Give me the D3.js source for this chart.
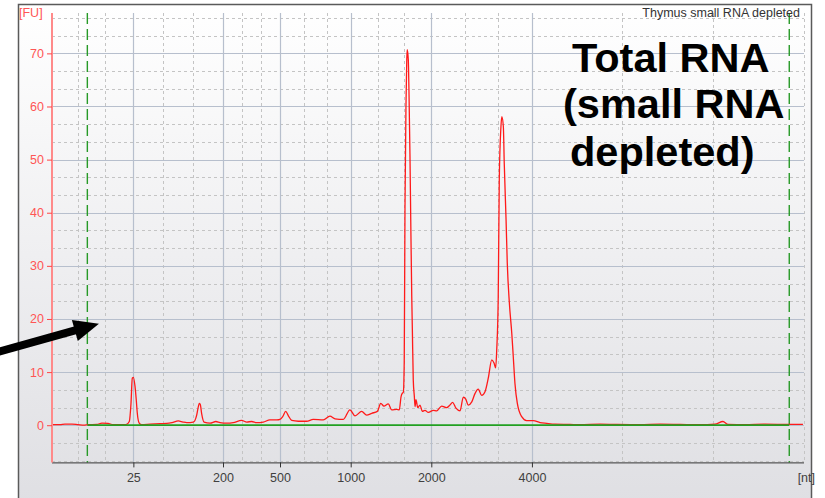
<!DOCTYPE html>
<html><head><meta charset="utf-8">
<script src="https://cdn.jsdelivr.net/npm/d3@7"></script>
<style>body{margin:0;background:#fff} svg{display:block}</style>
</head><body><svg id="c" width="825" height="498"></svg>
<script>
// ---- data (migration time in s -> fluorescence units) ----
const ladderNt   = ["25","200","500","1000","2000","4000"];
const ladderTime = [24.41,30.37,34.16,38.86,44.22,50.91];
const outerGridTime = [20.75,22.52,56.93,62.95,69.0];
const yTicks = [0,10,20,30,40,50,60,70];
const markerTime = [21.35,68.02];
const traceTime = [
 19.00,19.53,19.86,20.33,20.73,21.13,21.39,21.99,22.32,22.72,
 23.06,23.92,24.14,24.25,24.34,24.41,24.52,24.61,24.67,24.80,
 24.96,25.52,26.18,26.63,26.98,27.40,27.71,27.96,28.40,28.62,
 28.73,28.79,28.86,28.95,29.11,29.51,29.90,30.17,30.64,31.05,
 31.61,31.95,32.28,32.61,33.05,33.49,33.96,34.16,34.34,34.54,
 34.71,34.94,35.38,35.93,36.37,37.04,37.48,37.82,38.37,38.81,
 39.15,39.59,39.92,40.26,40.63,40.86,41.07,41.36,41.59,41.92,
 42.09,42.21,42.29,42.36,42.42,42.47,42.54,42.59,42.62,42.69,
 42.74,42.80,42.85,42.92,42.96,43.02,43.09,43.14,43.20,43.32,
 43.47,43.62,43.80,44.02,44.35,44.58,44.91,45.24,45.46,45.64,
 45.86,46.13,46.35,46.51,46.68,46.91,47.13,47.34,47.57,47.79,
 48.01,48.24,48.39,48.50,48.57,48.67,48.74,48.85,48.91,49.01,
 49.07,49.19,49.27,49.41,49.57,49.67,49.78,49.94,50.23,50.56,
 51.00,51.45,51.89,52.44,53.44,54.11,55.44,56.43,58.10,59.43,
 60.76,62.09,63.08,63.61,63.95,65.08,66.41,68.00,68.93];
const traceFU = [
 0.1,0.1,0.2,0.2,0.1,0.0,0.1,0.15,0.4,0.35,
 0.1,0.1,0.7,4,8.85,9.0,7.3,4.5,2.3,0.4,
 0.1,0.2,0.3,0.35,0.5,0.8,0.6,0.5,0.6,1.9,
 3.5,4.1,3.9,2.2,0.6,0.4,0.7,0.5,0.4,0.5,
 0.9,0.6,0.7,0.5,0.6,1.0,1.0,1.1,1.6,2.6,
 1.8,0.9,0.75,0.75,1.1,1.0,1.7,1.2,1.1,2.9,
 1.75,2.6,1.9,2.25,2.6,4.1,3.6,4.0,2.9,3.0,
 2.9,5.4,6.0,6.2,12,41,61,69,70.7,68.8,
 62,51,39.3,24.2,18,8.5,5.5,3.5,4.8,3.3,
 3.8,2.6,2.8,2.4,2.8,2.7,3.6,3.3,3.8,4.3,
 3.2,2.7,5.3,4.9,3.8,4.4,6.0,6.8,5.6,6.3,
 8.9,12.3,11.7,10.8,14.2,24.2,46.2,56.2,58.1,56.2,
 49.3,38.7,30.6,23,17.3,12.9,7.9,4.1,1.6,0.87,
 0.87,0.5,0.35,0.2,0.15,0.1,0.2,0.15,0.1,0.2,
 0.15,0.1,0.2,0.7,0.15,0.1,0.2,0.15,0.15];
const titleText = "Thymus small RNA depleted";
const bigText = ["Total RNA","(small RNA","depleted)"];
const arrowFrom = [15.54, 13.9], arrowTo = [22.12, 19.1];

// ---- drawing ----
const svg = d3.select("#c");
const x = d3.scaleLinear().domain([19, 69]).range([52, 804]);
const y = d3.scaleLinear().domain([-7, 77.6]).range([462.4, 13]);
const [x0, x1] = x.range(), [yb, yt] = y.range();

const defs = svg.append("defs");
const g = defs.append("linearGradient").attr("id","bg").attr("x1",0).attr("y1",0).attr("x2",0).attr("y2",1);
g.append("stop").attr("offset","0%").attr("stop-color","#ffffff");
g.append("stop").attr("offset","100%").attr("stop-color","#dfdfe3");

svg.append("rect").attr("width",825).attr("height",498).attr("fill","#fff");
svg.append("rect").attr("x",18.5).attr("y",4.5).attr("width",793).attr("height",500)
  .attr("fill","url(#bg)").attr("stroke","#5a5a5a").attr("stroke-width",1.5);

// minor gridlines
const minorX = outerGridTime.slice();
for (let i = 0; i < ladderTime.length - 1; i++) {
  const a = ladderTime[i], b = ladderTime[i+1];
  minorX.push(a + (b-a)/3, a + 2*(b-a)/3);
}
const minorY = d3.range(-2, 24).filter(i => i % 3 !== 0).map(i => i*10/3);
svg.append("g").selectAll("line").data(minorX).join("line")
  .attr("x1", d => Math.round(x(d))+0.5).attr("x2", d => Math.round(x(d))+0.5)
  .attr("y1", yt).attr("y2", yb)
  .attr("stroke","#c4c4c4").attr("stroke-dasharray","3,3");
svg.append("g").selectAll("line").data(minorY).join("line")
  .attr("y1", d => Math.round(y(d))+0.5).attr("y2", d => Math.round(y(d))+0.5)
  .attr("x1", x0).attr("x2", x1)
  .attr("stroke","#c4c4c4").attr("stroke-dasharray","3,3");
// major gridlines
svg.append("g").selectAll("line").data(ladderTime).join("line")
  .attr("x1", d => Math.round(x(d))+0.5).attr("x2", d => Math.round(x(d))+0.5)
  .attr("y1", yt).attr("y2", yb)
  .attr("stroke","#b7bfcd").attr("stroke-width",1.2);
svg.append("g").selectAll("line").data(yTicks).join("line")
  .attr("y1", d => Math.round(y(d))+0.5).attr("y2", d => Math.round(y(d))+0.5)
  .attr("x1", x0).attr("x2", x1)
  .attr("stroke","#b7bfcd").attr("stroke-width",1.2);

// markers
svg.append("g").selectAll("line").data(markerTime).join("line")
  .attr("x1", d => x(d)).attr("x2", d => x(d))
  .attr("y1", yt).attr("y2", yb)
  .attr("stroke","#279a27").attr("stroke-width",1.4).attr("stroke-dasharray","11,5");

// trace
const pts = traceTime.map((t,i) => [t, traceFU[i]]);
svg.append("path").datum(pts)
  .attr("d", d3.line().x(d => x(d[0])).y(d => y(d[1])).curve(d3.curveMonotoneX))
  .attr("fill","none").attr("stroke","#ff1a1a").attr("stroke-width",1.3);
// baseline
svg.append("line").attr("x1", x(markerTime[0])).attr("x2", x(markerTime[1]))
  .attr("y1", y(0)).attr("y2", y(0)).attr("stroke","#22a022").attr("stroke-width",1.7);

// axes
const xAxis = d3.axisBottom(x).tickValues(ladderTime)
  .tickFormat((d,i) => ladderNt[i]).tickSize(5).tickPadding(6);
const gx = svg.append("g").attr("transform",`translate(0,${yb})`).call(xAxis);
gx.select(".domain").attr("stroke","#333").attr("d",`M${x0},0.5H${x1}`);
gx.selectAll(".tick line").attr("stroke","#333");
gx.selectAll("text").attr("fill","#404040").style("font","12.5px 'Liberation Sans', Arial, sans-serif");

const yAxis = d3.axisLeft(y).tickValues(yTicks).tickSize(5).tickPadding(3);
const gy = svg.append("g").attr("transform",`translate(${x0},0)`).call(yAxis);
gy.select(".domain").attr("stroke","#ff8a8a").attr("stroke-width",2).attr("d",`M0,${yt}V${yb}`);
gy.selectAll(".tick line").attr("stroke","#ff4545");
gy.selectAll("text").attr("fill","#ff5555").style("font","12.5px 'Liberation Sans', Arial, sans-serif");

svg.append("text").attr("x",19).attr("y",17).text("[FU]")
  .attr("fill","#ff5555").style("font","12.5px 'Liberation Sans', Arial, sans-serif");
svg.append("text").attr("x",815).attr("y",yb+20).attr("text-anchor","end").text("[nt]")
  .attr("fill","#404040").style("font","12.5px 'Liberation Sans', Arial, sans-serif");
svg.append("text").attr("x",800).attr("y",17).attr("text-anchor","end").text(titleText)
  .attr("fill","#333").style("font","12.5px 'Liberation Sans', Arial, sans-serif");

// big annotation
const bigX = [572, 563, 570], bigY = [72, 118, 166];
svg.append("g").selectAll("text").data(bigText).join("text")
  .attr("x", (d,i) => bigX[i]).attr("y", (d,i) => bigY[i]).text(d => d)
  .attr("fill","#000").style("font","bold 41.5px 'Liberation Sans', Arial, sans-serif");

// arrow
const p0 = [x(arrowFrom[0]), y(arrowFrom[1])], p1 = [x(arrowTo[0]), y(arrowTo[1])];
const dx = p1[0]-p0[0], dy = p1[1]-p0[1], L = Math.hypot(dx,dy);
const ux = dx/L, uy = dy/L, nx = -uy, ny = ux;
const hl = 25, hw = 11;
const bx = p1[0]-ux*hl, by = p1[1]-uy*hl;
svg.append("line").attr("x1",p0[0]-ux*10).attr("y1",p0[1]-uy*10).attr("x2",bx+ux*3).attr("y2",by+uy*3)
  .attr("stroke","#000").attr("stroke-width",8);
svg.append("path").attr("d",`M${p1[0]},${p1[1]}L${bx+nx*hw},${by+ny*hw}L${bx-nx*hw},${by-ny*hw}Z`).attr("fill","#000");
</script></body></html>
